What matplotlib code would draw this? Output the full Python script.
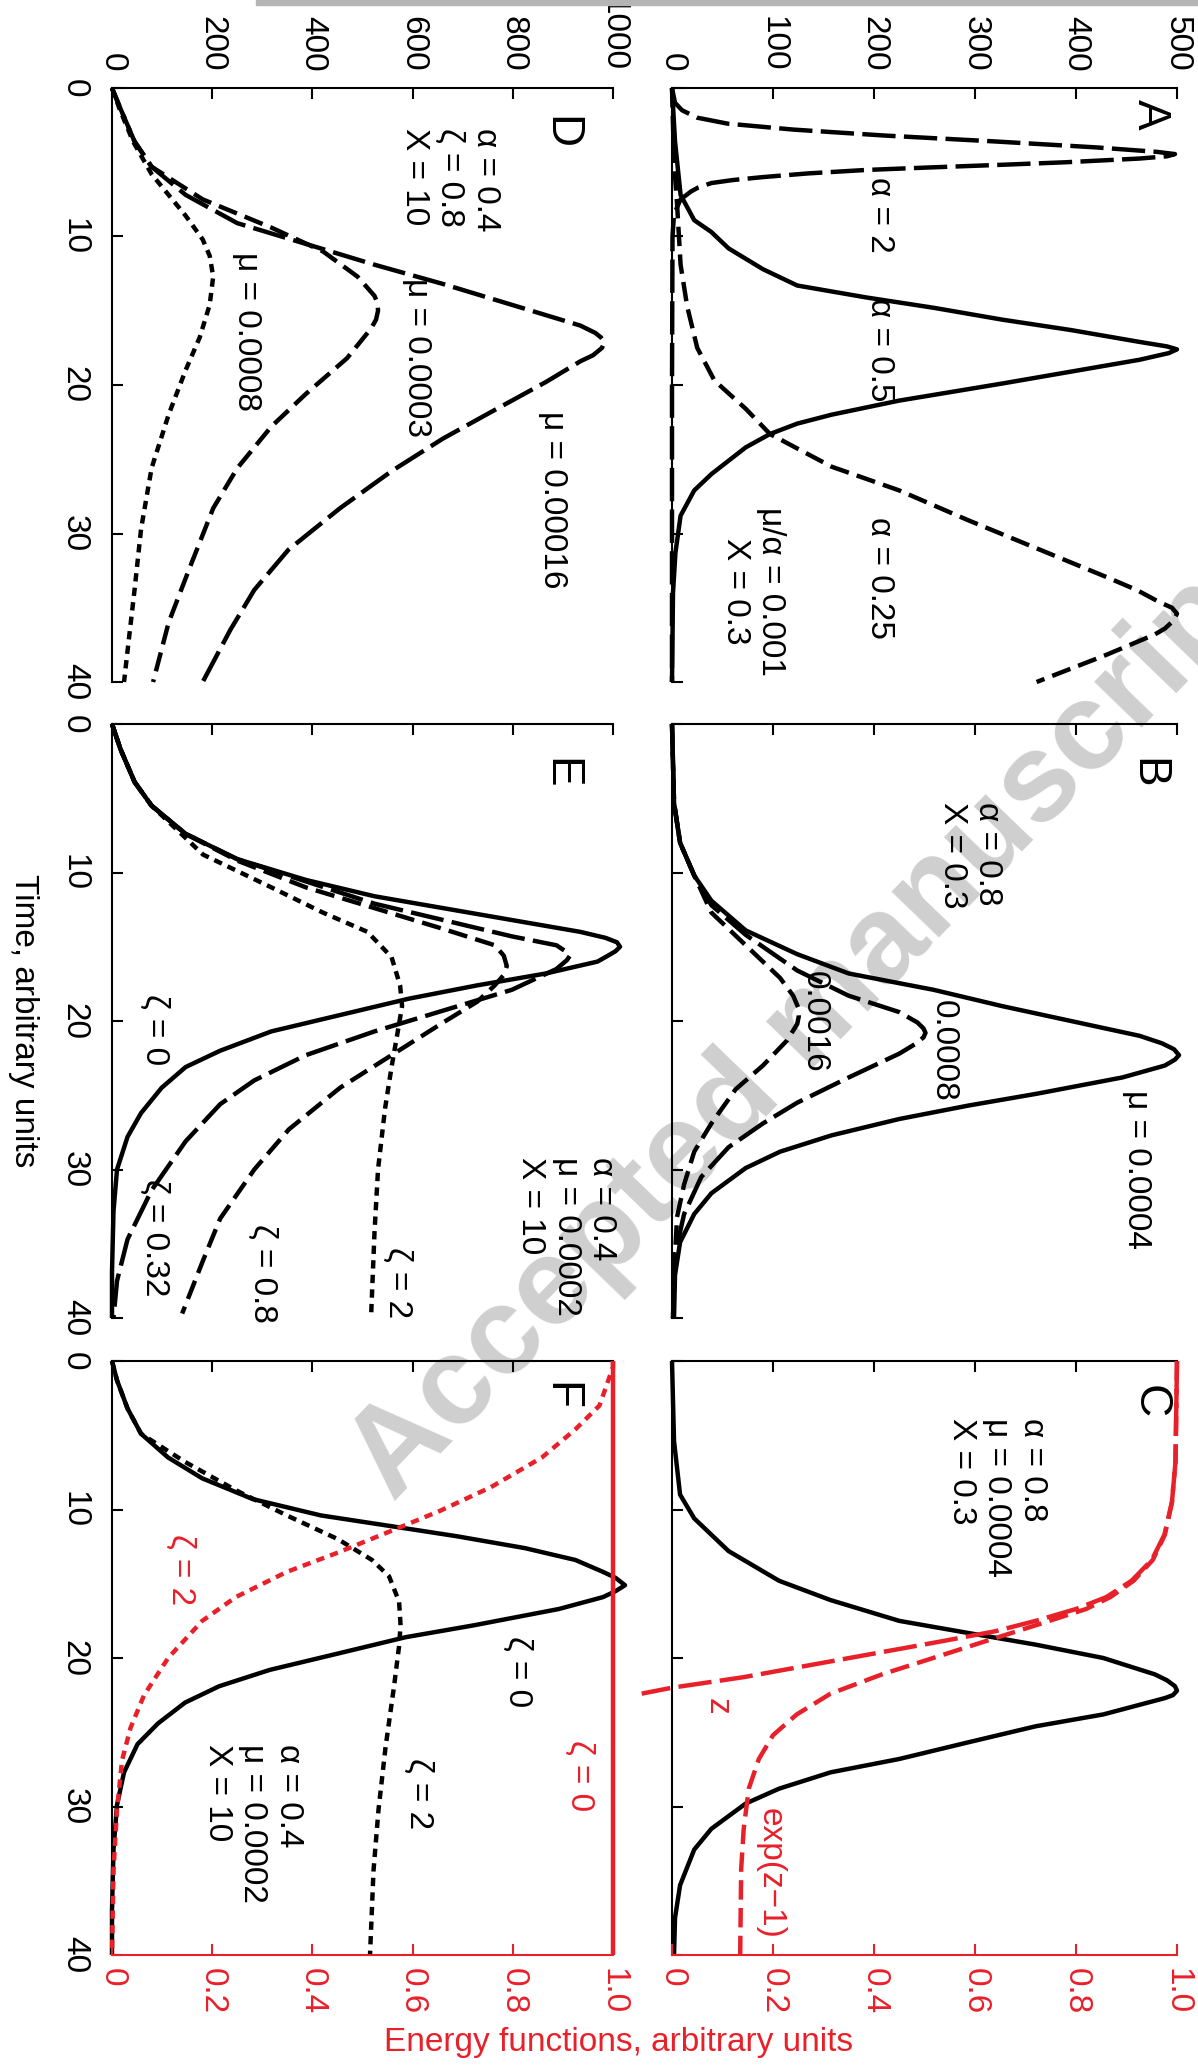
import matplotlib
matplotlib.use("Agg")
import matplotlib.pyplot as plt
from matplotlib.patches import Rectangle

plt.rcParams['font.family'] = ['Liberation Sans', 'DejaVu Sans']
plt.rcParams['lines.scale_dashes'] = False

W, H = 1198, 2066
RED = '#e8202a'
LONG, MED, SHORT = (0, (24, 6)), (0, (14, 6)), (0, (6, 4.5))

# ---- panel A: alpha series (counts 0..500)
a_t_alpha2 = [0, 1.0, 1.5, 2.0, 2.4, 2.8, 3.2, 3.6, 4.0, 4.3, 4.45, 4.6, 4.75, 5.0, 5.17, 5.35, 5.52, 5.75,
              6.0, 6.2, 6.4, 6.7, 6.96, 7.5, 8.5, 10, 20, 30, 40]
a_v_alpha2 = [0, 3, 10, 25, 55, 120, 210, 320, 420, 480, 498, 490, 463, 390, 327, 255, 192, 135,
              90, 60, 39, 26, 19, 8.5, 2, 0.5, 0, 0, 0]
a_t_alpha05 = [0, 3.6, 7.2, 8.9, 9.7, 10.8, 12.2, 13.3, 14.1, 14.8, 15.6, 16.3, 17.1, 17.4, 17.6, 17.85, 18.3,
               19.9, 21.05, 22.0, 22.6, 23.3, 24.2, 25.1, 26.0, 27.1, 28.8, 31.3, 34, 40]
a_v_alpha05 = [0, 3, 8.5, 22, 39, 56, 90, 124, 192, 259, 327, 395, 463, 490, 500, 492, 463,
               327, 225, 158, 124, 97, 73, 56, 39, 22, 8.5, 3.4, 1, 0]
a_t_alpha025 = [0, 5, 7.8, 11.9, 14.7, 17.5, 19.7, 21.6, 23.3, 25.5, 27.1, 29.1, 31.0, 32.9, 33.8, 34.6, 35.0,
                35.4, 35.9, 36.4, 36.8, 38.2, 40]
a_v_alpha025 = [0, 2, 5, 8.5, 15, 25, 42, 73, 97, 158, 225, 293, 361, 429, 460, 482, 495,
                500, 496, 488, 478, 429, 361]

# ---- panel B: mu series
b_t_mu0004 = [0, 5.3, 8.0, 10.2, 11.9, 13.9, 15.5, 16.8, 17.9, 19.0, 20.0, 21.0, 21.5, 21.9, 22.3, 22.6, 23.0,
              23.8, 24.9, 25.7, 26.6, 27.7, 28.8, 29.9, 31.6, 33.0, 34.9, 37.1, 40]
b_v_mu0004 = [0, 2, 8, 22, 39, 73, 124, 175, 259, 327, 395, 463, 485, 497, 502, 498, 488,
              446, 361, 293, 225, 158, 107, 73, 39, 22, 8, 3, 2]
b_t_mu0008 = [0, 5.3, 8.0, 10.2, 12.2, 14.2, 16.6, 18.3, 19.4, 20.1, 20.5, 20.8, 21.1, 21.5, 22.2, 23.8, 25.5,
              26.9, 28.5, 30.5, 33.0, 35.7, 40]
b_v_mu0008 = [0, 2, 8, 22, 39, 73, 124, 175, 225, 243, 249, 251, 249, 242, 225, 175, 124,
              90, 56, 29, 12, 3, 1]
b_t_mu0016 = [0, 5.3, 8.0, 10.2, 12.7, 14.9, 17.1, 18.3, 19.1, 19.7, 20.2, 21.3, 23.0, 24.6, 26.9, 28.8, 31.0,
              33.2, 37.1, 40]
b_v_mu0016 = [0, 2, 8, 22, 39, 73, 107, 120, 125, 125.5, 124, 114, 90, 63, 39, 22, 12, 5, 2, 1]

# ---- panel C: density and energy functions
c_t_dens = [0, 5.4, 9.0, 10.6, 12.8, 14.8, 16.1, 17.5, 18.3, 19.1, 20.0, 21.1, 21.5, 21.9, 22.2, 22.5, 22.7,
            23.8, 24.6, 25.7, 26.8, 27.7, 28.8, 29.8, 31.5, 32.9, 35.3, 37.5, 40]
c_v_dens = [0, 2, 8, 22, 56, 106, 157, 225, 292, 360, 427, 478, 490, 498, 500, 496, 488,
            427, 360, 292, 225, 157, 106, 73, 39, 22, 8, 3, 2]
c_t_z = [0, 6.8, 9.5, 11.7, 13.4, 14.8, 15.9, 16.7, 17.5, 18.2, 18.9, 19.7, 20.5, 21.3, 22.0, 22.4]
c_e_z = [1.0, 0.997, 0.99, 0.975, 0.95, 0.91, 0.86, 0.80, 0.72, 0.64, 0.53, 0.40, 0.27, 0.14, 0.0, -0.06]
c_t_exp = [0, 6.8, 9.5, 11.7, 13.4, 14.8, 15.9, 16.7, 17.8, 18.9, 20.0, 21.1, 22.4, 23.8, 25.2, 26.8, 28.8,
           31.5, 34.2, 40]
c_e_exp = [1.0, 0.997, 0.99, 0.976, 0.952, 0.914, 0.868, 0.82, 0.72, 0.618, 0.517, 0.416, 0.314, 0.247, 0.2,
           0.172, 0.152, 0.142, 0.137, 0.135]

# ---- panel D: mu series (0..1000)
d_t_mu00016 = [0, 1.4, 3.6, 5.3, 7.2, 9.1, 10.5, 11.9, 13.2, 14.6, 16.0, 16.5, 16.8, 17.1, 17.5, 18.0, 18.4,
               19.8, 21.7, 23.6, 25.8, 28.3, 31.1, 33.8, 36.5, 40]
d_v_mu00016 = [0, 17, 45, 79, 147, 250, 387, 524, 661, 798, 935, 965, 976, 983, 978, 960, 935,
               866, 763, 661, 558, 455, 352, 284, 236, 181]
d_t_mu0003 = [0, 1.4, 3.6, 5.3, 7.5, 9.4, 11.0, 12.7, 14.0, 14.5, 15.0, 15.6, 16.2, 18.2, 20.6, 22.8, 25.6,
              28.3, 32.4, 36.0, 40]
d_v_mu0003 = [0, 17, 45, 79, 181, 318, 421, 490, 524, 530, 531, 527, 517, 469, 387, 318, 250,
              202, 154, 113, 82]
d_t_mu0008 = [0, 1.4, 3.6, 5.8, 8.6, 10.2, 11.3, 12.7, 14.6, 16.8, 19.0, 22.0, 25.6, 29.7, 33.8, 37.9, 40]
d_v_mu0008 = [0, 15, 42, 79, 147, 181, 195, 202, 195, 175, 147, 113, 79, 58, 45, 31, 24]

# ---- panel E: zeta series
e_t_z0 = [0, 1.7, 3.9, 5.5, 7.4, 9.1, 10.5, 11.6, 12.4, 13.2, 14.0, 14.4, 14.7, 15.0, 15.3, 15.6, 16.0, 16.8,
          17.6, 18.5, 19.6, 20.7, 22.0, 23.1, 24.5, 26.2, 27.8, 30.0, 32.8, 36.9, 40]
e_v_z0 = [0, 17, 45, 79, 147, 250, 387, 524, 661, 798, 935, 985, 1008, 1014, 1005, 990, 969, 866,
          729, 592, 455, 318, 216, 147, 99, 58, 31, 10, 3, 0, 0]
e_t_z032 = [0, 1.7, 3.9, 5.5, 7.4, 9.1, 10.6, 12.1, 13.2, 14.3, 14.9, 15.3, 15.6, 15.9, 16.5, 17.9, 19.3, 20.7,
            22.3, 24.0, 25.6, 28.1, 31.4, 34.7, 37.5, 40]
e_v_z032 = [0, 17, 45, 79, 147, 250, 387, 524, 661, 798, 887, 905, 914, 908, 887, 798, 661, 524,
            387, 284, 216, 147, 79, 31, 10, 3]
e_t_z08 = [0, 1.7, 3.9, 5.5, 7.4, 9.2, 11.0, 12.4, 13.8, 14.9, 15.6, 16.3, 16.9, 17.6, 18.7, 20.1, 22.3, 24.5,
           27.3, 30.0, 33.3, 36.1, 39.7]
e_v_z08 = [0, 17, 45, 79, 147, 250, 387, 524, 661, 764, 782, 788, 782, 764, 729, 661, 558, 455,
           353, 284, 216, 182, 140]
e_t_z2 = [0, 1.7, 3.9, 5.5, 8.8, 11.0, 12.7, 14.0, 15.7, 17.6, 19.0, 20.4, 23.1, 25.9, 30.0, 34.2, 40]
e_v_z2 = [0, 17, 45, 79, 182, 318, 421, 510, 558, 575, 579, 572, 558, 545, 531, 524, 517]

# ---- panel F: density and energy
f_t_z0 = [0, 1.3, 3.2, 4.9, 6.5, 7.9, 9.3, 10.4, 11.1, 11.8, 12.6, 13.4, 14.2, 14.6, 15.1, 15.5, 15.9, 16.7,
          17.8, 18.6, 19.7, 20.8, 21.9, 23.0, 24.4, 25.8, 27.7, 29.9, 32.9, 37, 40]
f_v_z0 = [0, 10, 31, 58, 112, 180, 281, 417, 553, 688, 824, 925, 980, 1005, 1024, 1005, 980, 892,
          722, 586, 451, 315, 214, 146, 92, 51, 24, 10, 3, 0, 0]
f_t_z2 = [0, 1.3, 3.2, 4.9, 6.8, 8.7, 10.4, 12.0, 13.4, 14.5, 16.2, 17.8, 19.2, 21.9, 26.0, 30.2, 34.3, 40]
f_v_z2 = [0, 10, 31, 58, 146, 247, 349, 451, 519, 553, 573, 576, 573, 563, 546, 532, 522, 515]
f_t_e2 = [0, 0.4, 3.0, 4.6, 6.5, 8.5, 10.1, 11.5, 12.9, 14.2, 15.9, 17.5, 20.0, 22.5, 24.7, 26.9, 30.2, 34.3, 40]
f_e_e2 = [1.0, 1.0, 0.973, 0.925, 0.858, 0.756, 0.654, 0.553, 0.451, 0.349, 0.247, 0.18, 0.112, 0.064, 0.037,
          0.02, 0.01, 0.003, 0]
f_t_e0 = [0, 40]
f_e_e0 = [1.0, 1.0]

time_ticks = [0, 10, 20, 30, 40]
energy_ticks = [0, 0.2, 0.4, 0.6, 0.8, 1.0]
energy_labels = ['0', '0.2', '0.4', '0.6', '0.8', '1.0']

fig = plt.figure(figsize=(W / 100, H / 100), dpi=100)


def px(x, y):
    return x / W, 1 - y / H


def make_ax(x0, y0, w, vmax, vstep, vlabels, tlabels, energy=False):
    rect = [x0 / W, 1 - (y0 + 594) / H, w / W, 594 / H]
    ax = fig.add_axes(rect)
    ax2 = None
    if energy:
        ax2 = ax.twiny()
        ax2.set_xlim(0, 1)
        ax2.set_xticks(energy_ticks)
        ax2.set_xticklabels(energy_labels)
        ax2.xaxis.set_ticks_position('bottom')
        ax2.tick_params(axis='x', colors=RED, direction='in', length=8, width=1.5, pad=9,
                        labelsize=24, labelrotation=-90, bottom=True, top=False,
                        labelbottom=True, labeltop=False)
        for s in ['top', 'left', 'right']:
            ax2.spines[s].set_visible(False)
        ax2.spines['bottom'].set_color(RED)
        ax2.spines['bottom'].set_linewidth(1.5)
    ax.set_facecolor('none')
    ax.set_xlim(0, vmax)
    ax.set_ylim(40, 0)
    ax.set_xticks(range(0, vmax + 1, vstep))
    ax.set_yticks(time_ticks)
    ax.xaxis.set_ticks_position('top')
    ax.tick_params(axis='x', direction='in', length=8, width=1.5, pad=12, labelsize=24,
                   labelrotation=-90, top=True, bottom=False, labeltop=vlabels, labelbottom=False)
    ax.tick_params(axis='y', direction='in', length=8, width=1.5, pad=16, labelsize=24,
                   labelrotation=-90, left=True, right=False, labelleft=tlabels)
    for lbl in ax.get_yticklabels():
        lbl.set_va('center')
    for s in ['right', 'bottom']:
        ax.spines[s].set_visible(False)
    for s in ['top', 'left']:
        ax.spines[s].set_linewidth(1.5)
    return ax, ax2


def line(ax, v, t, ls='-', color='black', lw=3.2):
    ax.plot(v, t, color=color, lw=lw, linestyle=ls, clip_on=False, solid_capstyle='butt',
            solid_joinstyle='round')


# right column
axA, _ = make_ax(672, 88, 505, 500, 100, True, False)
line(axA, a_v_alpha2, a_t_alpha2, LONG)
line(axA, a_v_alpha05, a_t_alpha05, '-')
line(axA, a_v_alpha025, a_t_alpha025, MED)

axB, _ = make_ax(672, 724, 505, 500, 100, False, False)
line(axB, b_v_mu0004, b_t_mu0004, '-')
line(axB, b_v_mu0008, b_t_mu0008, LONG)
line(axB, b_v_mu0016, b_t_mu0016, MED)

axC, axC2 = make_ax(672, 1361, 505, 500, 100, False, False, energy=True)
line(axC, c_v_dens, c_t_dens, '-')
line(axC2, c_e_z, c_t_z, LONG, RED)
line(axC2, c_e_exp, c_t_exp, MED, RED)

# left column
axD, _ = make_ax(112, 88, 501, 1000, 200, True, True)
line(axD, d_v_mu00016, d_t_mu00016, LONG)
line(axD, d_v_mu0003, d_t_mu0003, MED)
line(axD, d_v_mu0008, d_t_mu0008, SHORT)

axE, _ = make_ax(112, 724, 501, 1000, 200, False, True)
line(axE, e_v_z0, e_t_z0, '-')
line(axE, e_v_z032, e_t_z032, LONG)
line(axE, e_v_z08, e_t_z08, MED)
line(axE, e_v_z2, e_t_z2, SHORT)

axF, axF2 = make_ax(112, 1361, 501, 1000, 200, False, True, energy=True)
line(axF2, f_e_e0, f_t_e0, '-', RED)
line(axF2, f_e_e2, f_t_e2, SHORT, RED)
line(axF, f_v_z0, f_t_z0, '-')
line(axF, f_v_z2, f_t_z2, SHORT)


def label(x, y, s, size=24, color='black', va='center', ma='left'):
    fig.text(*px(x, y), s, rotation=-90, ha='center', va=va, fontsize=size, color=color,
             multialignment=ma, linespacing=1.2)


# panel letters
for x, y, s in [(1150, 114, 'A'), (1147, 773, 'B'), (1150, 1402, 'C'),
                (560, 133, 'D'), (560, 773, 'E'), (560, 1396, 'F')]:
    label(x, y, s, size=33)

# A
label(880, 215, 'α = 2')
label(880, 350, 'α = 0.5')
label(880, 578, 'α = 0.25')
label(753, 591, 'μ/α = 0.001\nX = 0.3', ma='center')
# B
label(970, 802, 'α = 0.8\nX = 0.3', va='top')
label(943, 1051, '0.0008')
label(814, 1022, '0.0016')
label(1137, 1170, 'μ = 0.0004')
# C
label(997, 1418, 'α = 0.8\nμ = 0.0004\nX = 0.3', va='top')
label(717, 1706, 'z', color=RED)
label(770, 1873, 'exp(z−1)', color=RED)
# D
label(450, 128, 'α = 0.4\nζ = 0.8\nX = 10', va='top')
label(553, 500, 'μ = 0.00016')
label(416, 358, 'μ = 0.0003')
label(247, 331, 'μ = 0.0008')
# E
label(566, 1157, 'α = 0.4\nμ = 0.0002\nX = 10', va='top')
label(398, 1283, 'ζ = 2')
label(263, 1273, 'ζ = 0.8')
label(155, 1238, 'ζ = 0.32')
label(155, 1030, 'ζ = 0')
# F
label(181, 1570, 'ζ = 2', color=RED)
label(518, 1672, 'ζ = 0')
label(580, 1776, 'ζ = 0', color=RED)
label(419, 1794, 'ζ = 2')
label(253, 1744, 'α = 0.4\nμ = 0.0002\nX = 10', va='top')

# axis titles
label(23, 1021, 'Time, arbitrary units')
fig.text(*px(619, 2042), 'Energy functions, arbitrary units', ha='center', va='center',
         fontsize=24, color=RED)

# watermark and page edge
fig.text(*px(812, 1024), 'Accepted manuscript', rotation=46, fontsize=90, fontweight='bold',
         color='#cfcfcf', ha='center', va='center', rotation_mode='anchor', zorder=-1)
fig.add_artist(Rectangle((256 / W, 1 - 5 / H), 1, 5 / H, transform=fig.transFigure,
                         color='#b5b5b5', zorder=5))

fig.savefig('out.png', dpi=100)
